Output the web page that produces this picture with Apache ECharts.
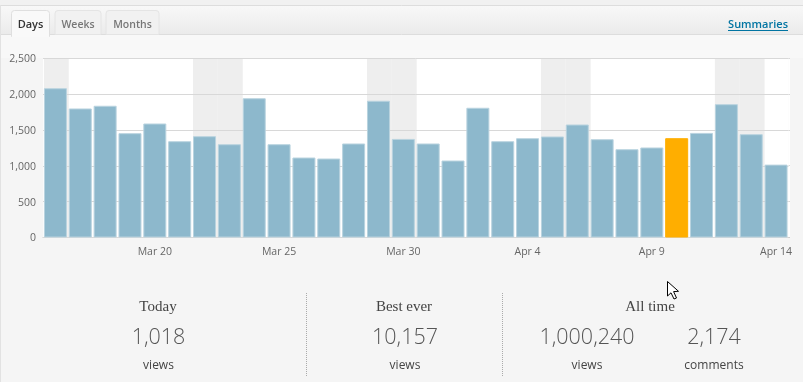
<!DOCTYPE html>
<html><head><meta charset="utf-8">
<style>html,body{margin:0;padding:0;background:#f5f5f5}#c{width:803px;height:382px}</style>
<script src="https://cdn.jsdelivr.net/npm/echarts@6/dist/echarts.min.js"></script>
</head><body><div id="c"></div>
<script>
const days = ['Mar 16','Mar 17','Mar 18','Mar 19','Mar 20','Mar 21','Mar 22','Mar 23','Mar 24','Mar 25','Mar 26','Mar 27','Mar 28','Mar 29','Mar 30','Mar 31','Apr 1','Apr 2','Apr 3','Apr 4','Apr 5','Apr 6','Apr 7','Apr 8','Apr 9','Apr 10','Apr 11','Apr 12','Apr 13','Apr 14'];
const views = [2085,1802,1840,1457,1592,1345,1415,1303,1945,1303,1117,1103,1313,1910,1377,1313,1075,1812,1345,1387,1411,1578,1373,1233,1257,1387,1461,1862,1443,1018];
const weekendDays = ['Mar 16','Mar 22','Mar 23','Mar 29','Mar 30','Apr 5','Apr 6','Apr 12','Apr 13'];
const highlightedDay = 'Apr 10';
const labelledDays = ['Mar 20','Mar 25','Mar 30','Apr 4','Apr 9','Apr 14'];
const axisMax = 2500;
const tickValues = [0,500,1000,1500,2000,2500];
const tabNames = ['Days','Weeks','Months'];
const summaryLink = 'Summaries';
const stats = [
  {head:'Today', hx:158, items:[{v:'1,018', l:'views', x:158.5}]},
  {head:'Best ever', hx:404, items:[{v:'10,157', l:'views', x:405}]},
  {head:'All time', hx:650, items:[{v:'1,000,240', l:'views', x:587},{v:'2,174', l:'comments', x:714}]}
];

const SANS = '"Open Sans", sans-serif';
const PLOT = {left:43, top:58.5, width:745.5, height:179, visualRight:790};
const g = [];
const rect = (x,y,w,h,fill,z=0)=>g.push({type:'rect',silent:true,z,shape:{x,y,width:w,height:h},style:{fill}});
const txt = (text,x,y,font,fill,align='center',weight='normal',size=12,z=5)=>g.push({type:'text',silent:true,z,x,y,style:{text,font:`${weight} ${size}px ${font}`,fill,align,verticalAlign:'middle'}});
const line = (x1,y1,x2,y2,stroke,dash,z=1)=>g.push({type:'line',silent:true,z,shape:{x1,y1,x2,y2},style:{stroke,lineWidth:1,lineDash:dash||null}});

// page chrome
rect(0,0,803,5,'#f1f1f1');
g.push({type:'rect',silent:true,z:0,shape:{x:0,y:6,width:803,height:28},style:{fill:{type:'linear',x:0,y:0,x2:0,y2:1,colorStops:[{offset:0,color:'#f8f8f8'},{offset:1,color:'#ebebeb'}]}}});
rect(0,35,803,23,'#f8f8f8');
line(0,5.5,803,5.5,'#dddddd');
line(0,34.5,803,34.5,'#dddddd');
line(0.5,5,0.5,382,'#e2e2e2');

// the plot's white panel and rules run a little past the last bar's band
const panelEnd = PLOT.left + PLOT.width;
rect(panelEnd,PLOT.top,PLOT.visualRight-panelEnd,PLOT.height,'#ffffff');
tickValues.forEach(t=>{
  const y = Math.round(PLOT.top + PLOT.height*(1-t/axisMax) - 0.5) + 0.5;
  line(panelEnd,y,PLOT.visualRight,y,t===0?'#cccccc':'#d8d8d8',null,2);
});

// tabs
const tabs = [[11,38],[54.5,46],[105.5,53]];
tabs.forEach(([x,w],i)=>{
  g.push({type:'rect',silent:true,z:2,shape:{x:x+0.5,y:10.5,width:w,height:i?24:26,r:[3,3,0,0]},
    style:{fill:i?'#f1f1f1':'#f9f9f9',stroke:i?'#e4e4e4':'#dfdfdf',lineWidth:1}});
  txt(tabNames[i],x+w/2+0.5,25,SANS,i?'#777777':'#333333','center',600,i?10.5:11);
});
rect(12,34,37,3,'#f9f9f9',3);
txt(summaryLink,788,25,SANS,'#0074a2','right',600,11);
line(728,30.5,788,30.5,'#0074a2');

// stats
[306.5,502.5].forEach(x=>line(x,293,x,377,'#aaaaaa',[1,1]));
stats.forEach(s=>{
  txt(s.head,s.hx,307,'"Liberation Serif", serif','#444444','center','normal',15);
  s.items.forEach(it=>{
    txt(it.v,it.x,338,SANS,'#555555','center',300,21.5);
    txt(it.l,it.x,365.5,SANS,'#444444','center','normal',12);
  });
});

// mouse cursor
g.push({type:'polygon',silent:true,z:20,shape:{points:[[667.5,281.5],[667.5,296],[671,292.8],[674,299],[676.5,298],[673.6,291.6],[678.5,291.3]]},style:{fill:'#fff',stroke:'#000',lineWidth:1}});

const chart = echarts.init(document.getElementById('c'),null,{renderer:'canvas'});
chart.setOption({
  animation:false,
  backgroundColor:'#f5f5f5',
  graphic:{elements:g},
  grid:{left:PLOT.left,top:PLOT.top,width:PLOT.width,height:PLOT.height,show:true,backgroundColor:'#ffffff',borderWidth:0,containLabel:false},
  xAxis:{type:'category',data:days,
    axisLine:{show:true,lineStyle:{color:'#cccccc',width:1}},axisTick:{show:false},
    axisLabel:{color:'#666666',fontFamily:SANS,fontSize:10.5,margin:9,hideOverlap:false,
      interval:(i,v)=>labelledDays.includes(v)}},
  yAxis:{type:'value',min:0,max:axisMax,interval:500,z:1,
    axisLine:{show:false},axisTick:{show:false},
    axisLabel:{color:'#666666',fontFamily:SANS,fontSize:10.5,margin:7,verticalAlign:'top',lineHeight:2,
      formatter:v=>v.toLocaleString('en-US')},
    splitLine:{lineStyle:{color:'#d8d8d8',width:1}}},
  series:[
    {name:'Weekend',type:'bar',silent:true,z:0,barWidth:'100%',barGap:'-100%',
     itemStyle:{color:'#eeeeee'},
     data:days.map(d=>weekendDays.includes(d)?axisMax:null)},
    {name:'Views',type:'bar',z:3,barWidth:23,barGap:'-100%',silent:true,
     itemStyle:{color:'#8db8cc',borderColor:'#b9d3df',borderWidth:1},
     data:views.map((v,i)=>days[i]===highlightedDay
        ?{value:v,itemStyle:{color:'#ffae00',borderColor:'#ffae00'}}:v)}
  ]
});
</script></body></html>
